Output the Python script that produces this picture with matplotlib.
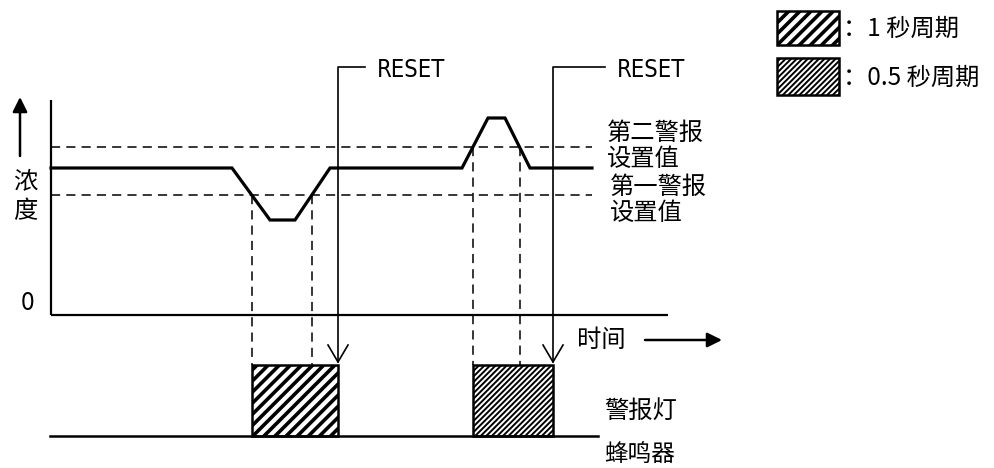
import matplotlib
matplotlib.use("Agg")
import numpy as np
import matplotlib.pyplot as plt
from matplotlib.patches import Rectangle
from matplotlib import font_manager

plt.rcParams['font.family'] = ['Noto Sans CJK SC', 'DejaVu Sans']

# ---------------- data (time in px-like units, concentration level units) ----
time_pts = [51, 232, 270, 295, 330, 462, 488, 505, 530, 592]
conc_pts = [147, 147, 95, 95, 147, 147, 197, 197, 147, 147]
alarm1_level = 120      # 第一警报设置值
alarm2_level = 168      # 第二警报设置值
reset_times = [338, 553]
alarm_labels = ["第二警报\n设置值", "第一警报\n设置值"]
legend_labels = ["：1 秒周期", "：0.5 秒周期"]
hatches = ["///", "//////"]
hatch_lws = [2.6, 1.4]

names = {f.name for f in font_manager.fontManager.ttflist}
narrow = 'Liberation Sans Narrow' if 'Liberation Sans Narrow' in names else 'DejaVu Sans'
narrow_kw = {} if narrow != 'DejaVu Sans' else {'fontstretch': 'condensed'}

# ---------------- layout ----------------
W, H = 995, 468
Y0 = 315  # pixel row of concentration zero
fig = plt.figure(figsize=(W / 100, H / 100), dpi=100)
ax = fig.add_axes([0, 0, 1, 1])
ax.set_xlim(0, W)
ax.set_ylim(Y0 - H, Y0)
ax.axis('off')

def py(y):
    return Y0 - y

FS = 17.5
x_end_time = 668
x_end_dash = 592
box_top, box_bot = py(365), py(436)

# axes
ax.plot([51, 51], [py(100), 0], color='black', lw=1.6, solid_capstyle='butt')
ax.plot([51, x_end_time], [0, 0], color='black', lw=1.6, solid_capstyle='butt')

# threshold dashed lines
for lvl in (alarm1_level, alarm2_level):
    ax.plot([51, x_end_dash], [lvl, lvl], color='black', lw=1.1, dashes=(6, 4))

# concentration curve
ax.plot(time_pts, conc_pts, color='black', lw=2.3, solid_joinstyle='miter')

# crossing times
t = np.array(time_pts, float)
c = np.array(conc_pts, float)
def crossings(level):
    res = []
    for i in range(len(t) - 1):
        a, b = c[i] - level, c[i + 1] - level
        if a * b < 0:
            res.append(t[i] + (level - c[i]) / (c[i + 1] - c[i]) * (t[i + 1] - t[i]))
    return res

cr1 = crossings(alarm1_level)   # dip
cr2 = crossings(alarm2_level)   # peak
for x in cr1:
    ax.plot([x, x], [alarm1_level, box_top], color='black', lw=1.1, dashes=(6, 4))
for x in cr2:
    ax.plot([x, x], [alarm2_level, box_top], color='black', lw=1.1, dashes=(6, 4))

def hatched_rect(xy, w, h, hatch, hl):
    with plt.rc_context({'hatch.linewidth': hl}):
        rect = Rectangle(xy, w, h, facecolor='white', edgecolor='black', lw=1.8, hatch=hatch)
        if hasattr(rect, 'set_hatch_linewidth'):
            rect.set_hatch_linewidth(hl)
        ax.add_patch(rect)

# alarm boxes
starts = [cr1[0], cr2[0]]
for s, r, h, hl in zip(starts, reset_times, hatches, hatch_lws):
    hatched_rect((s, box_bot), r - s, box_top - box_bot, h, hl)

# base line of lamp/buzzer
ax.plot([50, 598], [box_bot, box_bot], color='black', lw=1.8)

# RESET lines with open arrows
reset_text_x = [377, 617]
for r, tx in zip(reset_times, reset_text_x):
    ytop = py(67)
    tip = py(362)
    ax.plot([tx - 12, r, r], [ytop, ytop, tip], color='black', lw=1.2)
    ax.plot([r - 10, r, r + 10], [tip + 17, tip, tip + 17], color='black', lw=1.2)
    ax.text(tx, py(70), "RESET", fontsize=17, va='center', ha='left',
            family=narrow, **narrow_kw)

# threshold labels
ax.text(607, py(146), alarm_labels[0], fontsize=FS, va='center', ha='left', linespacing=1.0)
ax.text(610, py(200), alarm_labels[1], fontsize=FS, va='center', ha='left', linespacing=1.0)

# y axis arrow and label
ax.annotate('', xy=(20, py(97)), xytext=(20, py(156)),
            arrowprops=dict(arrowstyle='-|>', lw=1.8, color='black', mutation_scale=22,
                            shrinkA=0, shrinkB=0))
ax.text(25, py(182), "浓", fontsize=FS, va='center', ha='center')
ax.text(25, py(211), "度", fontsize=FS, va='center', ha='center')
ax.text(28, py(303), "0", fontsize=FS, va='center', ha='center')

# time label and arrow
ax.text(577, py(340), "时间", fontsize=FS, va='center', ha='left')
ax.annotate('', xy=(722, py(340)), xytext=(645, py(340)),
            arrowprops=dict(arrowstyle='-|>', lw=1.8, color='black', mutation_scale=22,
                            shrinkA=0, shrinkB=0))

# lamp / buzzer labels
ax.text(604, py(411), "警报灯", fontsize=FS, va='center', ha='left')
ax.text(604, py(454), "蜂鸣器", fontsize=17, va='center', ha='left')

# legend
leg_y = [(11, 45), (58, 95)]
for (yt, yb), h, hl, lab in zip(leg_y, hatches, hatch_lws, legend_labels):
    hatched_rect((777, py(yb)), 62, yb - yt, h, hl)
    ax.text(843, py((yt + yb) / 2 + 1), lab, fontsize=17.5, va='center', ha='left')

fig.savefig("out.png", dpi=100)
